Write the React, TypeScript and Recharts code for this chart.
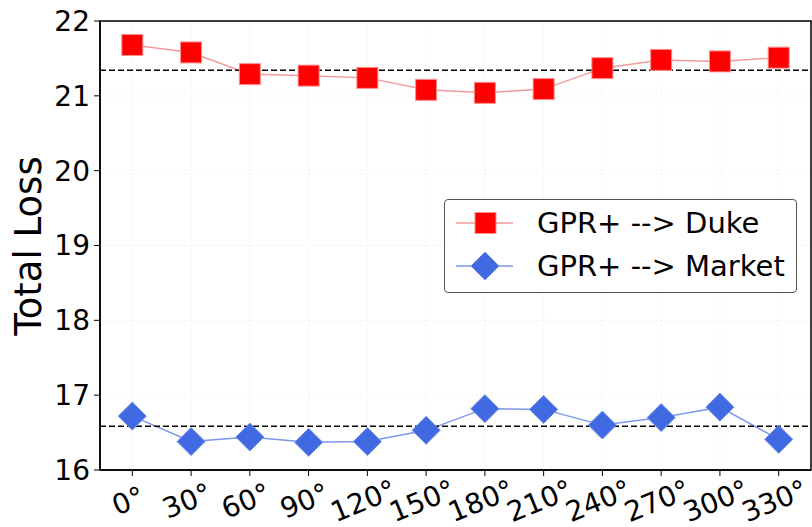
import React from 'react';
import {
  LineChart,
  Line,
  XAxis,
  YAxis,
  CartesianGrid,
  ReferenceLine,
  ReferenceArea,
} from 'recharts';

const ANGLES = [0, 30, 60, 90, 120, 150, 180, 210, 240, 270, 300, 330];
const DUKE_LOSS = [21.68, 21.58, 21.29, 21.27, 21.24, 21.08, 21.04, 21.09, 21.37, 21.48, 21.46, 21.51];
const MARKET_LOSS = [16.72, 16.38, 16.44, 16.37, 16.38, 16.53, 16.82, 16.81, 16.6, 16.7, 16.84, 16.41];
const Y_TICKS = [16, 17, 18, 19, 20, 21, 22];
const SERIES_NAMES = ['GPR+ --> Duke', 'GPR+ --> Market'];

const FONT = '"DejaVu Sans", sans-serif';
const RED = '#ff0000';
const RED_LINE = '#f59a9a';
const BLUE = '#4169e1';
const BLUE_LINE = '#7d97ea';

const mean = (arr: number[]) => arr.reduce((a, b) => a + b, 0) / arr.length;

const data = ANGLES.map((a, i) => ({ angle: a, duke: DUKE_LOSS[i], market: MARKET_LOSS[i] }));

const Square = (props: any) => {
  const { cx, cy, index } = props;
  if (cx == null || cy == null) return <g key={`s-${index}`} />;
  return (
    <rect
      key={`s-${index}`}
      x={cx - 10.5}
      y={cy - 10.5}
      width={21}
      height={21}
      fill={RED}
      stroke="#ff8f8f"
      strokeWidth={1}
    />
  );
};

const Diamond = (props: any) => {
  const { cx, cy, index } = props;
  if (cx == null || cy == null) return <g key={`d-${index}`} />;
  const r = 14;
  return (
    <path
      key={`d-${index}`}
      d={`M${cx},${cy - r} L${cx + r},${cy} L${cx},${cy + r} L${cx - r},${cy} Z`}
      fill={BLUE}
      stroke="#6f8ee8"
      strokeWidth={1}
    />
  );
};

const AngleTick = (props: any) => {
  const { x, payload } = props;
  const cx = x - 4;
  const cy = 501;
  return (
    <text
      x={cx}
      y={cy}
      transform={`rotate(-22, ${cx}, ${cy})`}
      textAnchor="middle"
      dominantBaseline="central"
      fontSize={28}
      fontFamily={FONT}
      fill="#000"
    >
      {`${payload.value}°`}
    </text>
  );
};

function ChartLegend() {
  return (
    <div
      style={{
        position: 'absolute',
        left: 444,
        top: 199,
        width: 353,
        height: 94,
        boxSizing: 'border-box',
        border: '1px solid #555',
        borderRadius: 4,
        background: 'rgba(255,255,255,0.85)',
      }}
    >
      <svg width={351} height={92} style={{ display: 'block' }}>
        <line x1={11} x2={68} y1={23} y2={23} stroke={RED_LINE} strokeWidth={1.5} />
        <rect x={30} y={12.5} width={21} height={21} fill={RED} stroke="#ff8f8f" />
        <text x={92} y={23} dominantBaseline="central" fontSize={29} fontFamily={FONT} fill="#000">
          {SERIES_NAMES[0]}
        </text>
        <line x1={11} x2={68} y1={66} y2={66} stroke={BLUE_LINE} strokeWidth={1.5} />
        <path d="M40,52 L54,66 L40,80 L26,66 Z" fill={BLUE} stroke="#6f8ee8" />
        <text x={92} y={66} dominantBaseline="central" fontSize={29} fontFamily={FONT} fill="#000">
          {SERIES_NAMES[1]}
        </text>
      </svg>
    </div>
  );
}

export default function App() {
  return (
    <div style={{ position: 'absolute', left: 0, top: 0, width: 812, height: 527, background: '#fff' }}>
      <LineChart
        width={812}
        height={527}
        data={data}
        margin={{ top: 21, right: 1, left: 0, bottom: 0 }}
        style={{ fontFamily: FONT }}
      >
        <CartesianGrid stroke="#e6e6e6" strokeDasharray="1 3" />
        <XAxis
          dataKey="angle"
          type="number"
          domain={[-16.5, 346.5]}
          ticks={ANGLES}
          height={57}
          tick={<AngleTick />}
          tickSize={6}
          axisLine={{ stroke: '#000', strokeWidth: 1.5 }}
          tickLine={{ stroke: '#000', strokeWidth: 1 }}
          interval={0}
        />
        <YAxis
          type="number"
          domain={[16, 22]}
          ticks={Y_TICKS}
          width={100}
          tickSize={6}
          tickMargin={4}
          axisLine={{ stroke: '#000', strokeWidth: 1.5 }}
          tickLine={{ stroke: '#000', strokeWidth: 1 }}
          tick={{ fill: '#000', fontSize: 28, fontFamily: FONT }}
          label={{
            content: () => (
              <text
                x={28}
                y={246}
                transform="rotate(-90, 28, 246)"
                textAnchor="middle"
                dominantBaseline="central"
                fontSize={37}
                fontFamily={FONT}
                fill="#000"
              >
                Total Loss
              </text>
            ),
          }}
        />
        <ReferenceArea
          x1={-16.5}
          x2={346.5}
          y1={16}
          y2={22}
          fill="none"
          stroke="#000"
          strokeWidth={1.5}
        />
        <Line
          dataKey="duke"
          stroke={RED_LINE}
          strokeWidth={1.5}
          dot={Square}
          activeDot={false}
          isAnimationActive={false}
        />
        <Line
          dataKey="market"
          stroke={BLUE_LINE}
          strokeWidth={1.5}
          dot={Diamond}
          activeDot={false}
          isAnimationActive={false}
        />
        <ReferenceLine y={mean(DUKE_LOSS)} stroke="#000" strokeWidth={1.5} strokeDasharray="6 3" />
        <ReferenceLine y={mean(MARKET_LOSS)} stroke="#000" strokeWidth={1.5} strokeDasharray="6 3" />
      </LineChart>
      <ChartLegend />
    </div>
  );
}
